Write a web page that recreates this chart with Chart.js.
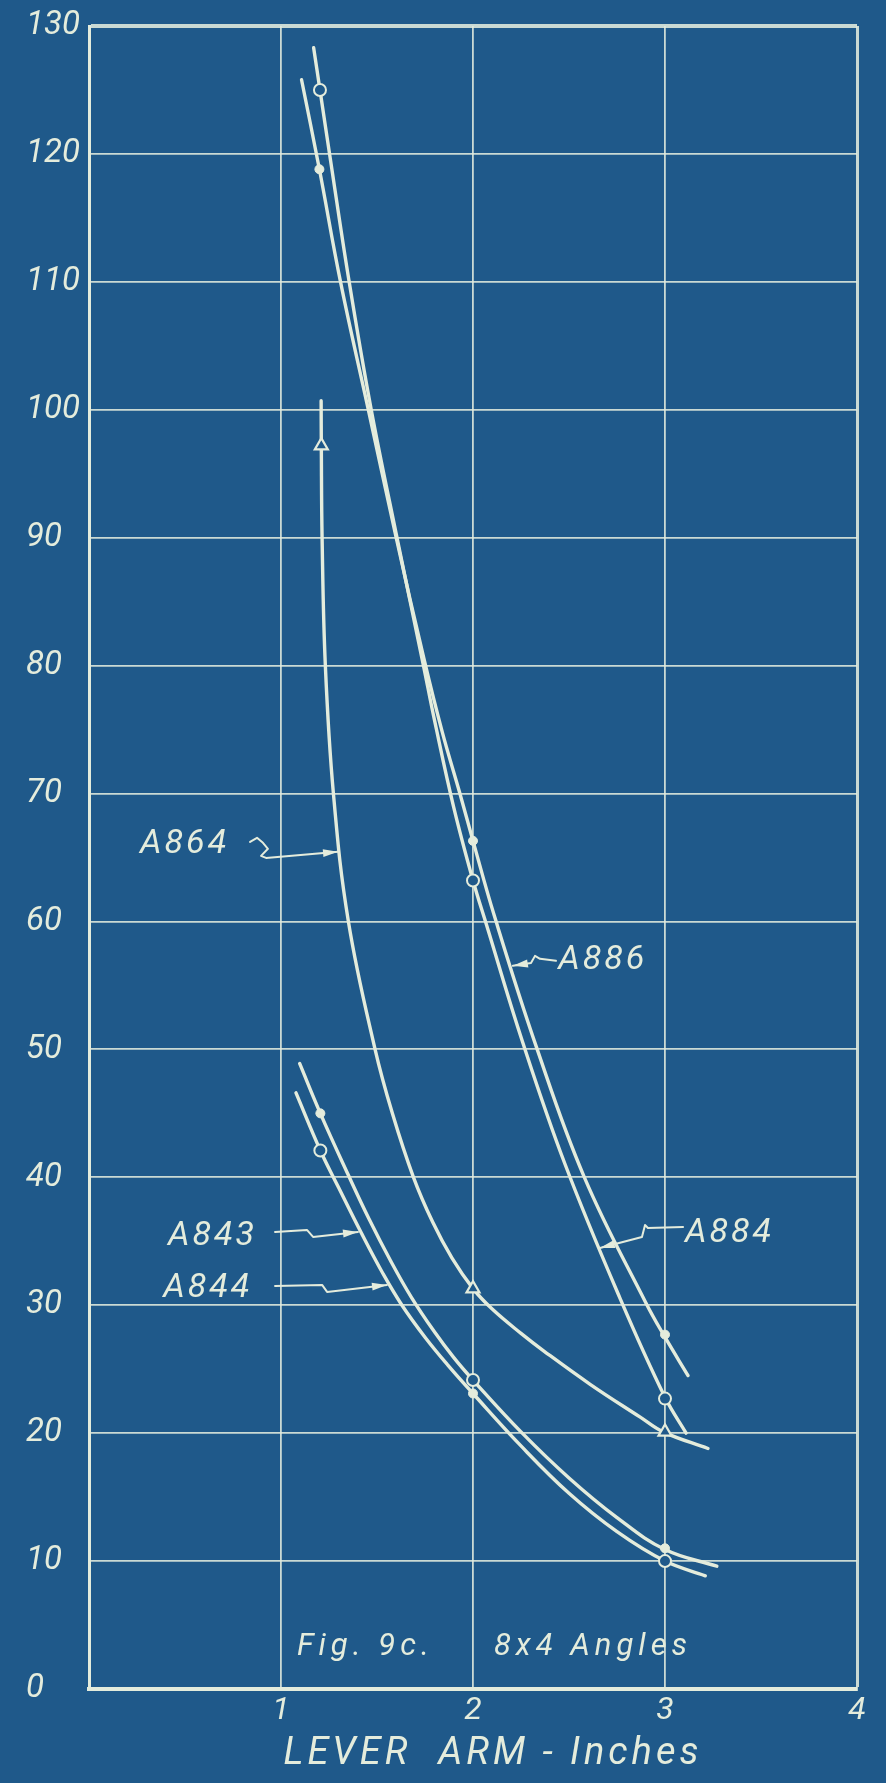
<!DOCTYPE html>
<html>
<head>
<meta charset="utf-8">
<title>Fig. 9c. 8x4 Angles</title>
<script src="https://cdn.jsdelivr.net/npm/chart.js@4.4.1/dist/chart.umd.min.js"></script>
<style>
  html, body { margin: 0; padding: 0; background: #1f598a; }
  canvas { display: block; }
</style>
</head>
<body>
<canvas id="fig" width="886" height="1783"></canvas>
<script>
// Load vs. lever arm (inches) for the 8x4 angle specimens.
// Faired curves, traced as [leverArm, load] pairs.
const curveA884 = [[1.17,128.3],[1.203,125.0],[1.253,120],[1.355,110],[1.47,100],[1.60,90.3],[1.742,80],[1.80,75.7],[1.90,68.9],[2.0,63.2],[2.069,59.8],[2.26,50.5],[2.48,41.0],[2.767,30.5],[3.0,22.8],[3.11,20.0]];
const curveA886 = [[1.107,125.8],[1.20,118.8],[1.31,110],[1.455,100],[1.60,90],[1.745,80.5],[1.84,74.8],[1.93,70.1],[2.0,66.3],[2.11,60.5],[2.33,50.2],[2.58,40],[2.90,30.2],[3.0,27.5],[3.12,24.5]];
const curveA864 = [[1.209,100.7],[1.21,97.2],[1.214,90],[1.231,80],[1.273,70],[1.351,60],[1.49,50],[1.58,45],[1.69,40],[1.79,36.5],[1.89,33.7],[2.0,31.3],[2.1,29.7],[2.25,27.8],[2.371,26.4],[2.612,23.8],[2.871,21.25],[2.99,20.1],[3.224,18.8]];
const curveA843 = [[1.078,46.6],[1.205,42.1],[1.30,39.2],[1.42,35.6],[1.53,32.5],[1.63,30.0],[1.75,27.5],[1.87,25.3],[2.0,23.1],[2.25,19.0],[2.5,15.3],[2.75,12.3],[3.0,10.0],[3.21,8.85]];
const curveA844 = [[1.097,48.9],[1.205,45.0],[1.35,40.2],[1.46,36.7],[1.57,33.5],[1.68,30.6],[1.80,27.9],[1.90,25.9],[2.0,24.15],[2.25,20.1],[2.5,16.5],[2.75,13.4],[3.0,10.9],[3.27,9.6]];

// Test readings at 1.2, 2 and 3 inch lever arms.
const pointsA884 = [[1.203,125.0],[2.0,63.2],[3.0,22.7]];
const pointsA886 = [[1.20,118.8],[2.0,66.3],[3.0,27.7]];
const pointsA864 = [[1.21,97.2],[2.0,31.3],[3.0,20.1]];
const pointsA843 = [[1.205,42.1],[2.0,24.15],[3.0,10.0]];
const pointsA844 = [[1.205,45.0],[2.0,23.1],[3.0,11.0]];

// Axis ticks
const xTickValues = [0, 1, 2, 3, 4];
const xTickLabels = ['', '1', '2', '3', '4'];
const yTickValues = [0, 10, 20, 30, 40, 50, 60, 70, 80, 90, 100, 110, 120, 130];
const yTickLabels = ['0', '10', '20', '30', '40', '50', '60', '70', '80', '90', '100', '110', '120', '130'];

// Curve names and where their hand-lettered tags sit (data units, text baseline)
const tagNames = ['A864', 'A886', 'A884', 'A843', 'A844'];
const tagAnchors = {
  A864: [0.266, 65.34],
  A886: [2.444, 56.25],
  A884: [3.104, 34.98],
  A843: [0.411, 34.71],
  A844: [0.387, 30.67]
};
// Leader lines from each tag to its curve, ending in an arrowhead
const tagLeaders = {
  A864: [[0.839,66.22],[0.875,66.54],[0.906,66.15],[0.932,65.68],[0.896,65.13],[0.922,64.97],[1.297,65.44]],
  A886: [[2.432,56.92],[2.349,57.08],[2.323,57.31],[2.302,56.76],[2.208,56.53]],
  A884: [[3.094,36.12],[2.911,36.04],[2.896,36.27],[2.880,35.34],[2.661,34.48]],
  A843: [[0.969,35.73],[1.135,35.89],[1.167,35.34],[1.401,35.73]],
  A844: [[0.969,31.51],[1.214,31.59],[1.240,31.04],[1.552,31.59]]
};
const captionParts = ['Fig. 9c.', '8x4 Angles'];
const captionAnchors = [[1.083, 2.66], [2.109, 2.66]];

const INK = '#e4ecdc';
const GRID = 'rgba(226,236,222,0.88)';
const PAPER = '#1f598a';
const FONT = 'Roboto, "Open Sans", "DejaVu Sans", sans-serif';

const toXY = arr => arr.map(([x, y]) => ({ x, y }));

function curveSet(label, arr) {
  return {
    label, data: toXY(arr), showLine: true, tension: 0.4,
    borderColor: INK, borderWidth: 3.4, borderCapStyle: 'round', borderJoinStyle: 'round',
    pointRadius: 0, pointHoverRadius: 0, order: 2
  };
}
function markSet(label, arr, style) {
  const base = { label, data: toXY(arr), showLine: false, order: 0, pointHoverRadius: 0 };
  if (style === 'ring') return Object.assign(base, { pointStyle: 'circle', pointRadius: 6, pointBorderWidth: 2, pointBorderColor: INK, pointBackgroundColor: PAPER });
  if (style === 'dot') return Object.assign(base, { pointStyle: 'circle', pointRadius: 4.5, pointBorderWidth: 1, pointBorderColor: INK, pointBackgroundColor: INK });
  return Object.assign(base, { pointStyle: 'triangle', pointRadius: 7.5, pointBorderWidth: 2.2, pointBorderColor: INK, pointBackgroundColor: PAPER });
}

// Title lettering gets wide tracking; everything drawn with the datasets does not.
const trackingPlugin = {
  id: 'tracking',
  beforeDraw(chart) { chart.ctx.letterSpacing = '4px'; },
  beforeDatasetsDraw(chart) { chart.ctx.letterSpacing = '0px'; }
};

// Hand-lettered curve tags, leader arrows and the figure caption
const lettering = {
  id: 'lettering',
  afterDraw(chart) {
    const { ctx, scales: { x: xs, y: ys } } = chart;
    const P = ([x, y]) => [xs.getPixelForValue(x), ys.getPixelForValue(y)];
    ctx.save();
    ctx.fillStyle = INK;
    ctx.strokeStyle = INK;
    ctx.textAlign = 'left';
    ctx.textBaseline = 'alphabetic';

    ctx.font = 'italic 400 34px ' + FONT;
    ctx.letterSpacing = '3px';
    tagNames.forEach(name => {
      const [tx, ty] = P(tagAnchors[name]);
      ctx.fillText(name, tx, ty);
    });

    ctx.letterSpacing = '0px';
    ctx.lineWidth = 2;
    ctx.lineJoin = 'round';
    ctx.lineCap = 'round';
    tagNames.forEach(name => {
      const pts = tagLeaders[name].map(P);
      ctx.beginPath();
      pts.forEach(([px, py], i) => i ? ctx.lineTo(px, py) : ctx.moveTo(px, py));
      ctx.stroke();
      const [ax, ay] = pts[pts.length - 1];
      const [bx, by] = pts[pts.length - 2];
      const ang = Math.atan2(ay - by, ax - bx);
      const len = 15, half = 4;
      ctx.beginPath();
      ctx.moveTo(ax, ay);
      ctx.lineTo(ax - len * Math.cos(ang) + half * Math.sin(ang), ay - len * Math.sin(ang) - half * Math.cos(ang));
      ctx.lineTo(ax - len * Math.cos(ang) - half * Math.sin(ang), ay - len * Math.sin(ang) + half * Math.cos(ang));
      ctx.closePath();
      ctx.fill();
    });

    ctx.font = 'italic 400 31px ' + FONT;
    ctx.letterSpacing = '5px';
    captionParts.forEach((t, i) => {
      const [cx, cy] = P(captionAnchors[i]);
      ctx.fillText(t, cx, cy);
    });
    ctx.restore();
  }
};

new Chart(document.getElementById('fig').getContext('2d'), {
  type: 'scatter',
  data: {
    datasets: [
      markSet('A884 readings', pointsA884, 'ring'),
      markSet('A886 readings', pointsA886, 'dot'),
      markSet('A864 readings', pointsA864, 'triangle'),
      markSet('A843 readings', pointsA843, 'ring'),
      markSet('A844 readings', pointsA844, 'dot'),
      curveSet('A884', curveA884),
      curveSet('A886', curveA886),
      curveSet('A864', curveA864),
      curveSet('A843', curveA843),
      curveSet('A844', curveA844)
    ]
  },
  options: {
    responsive: false,
    animation: false,
    devicePixelRatio: 1,
    layout: { padding: { left: 26, right: 29, top: 26, bottom: 0 }, autoPadding: false },
    plugins: { legend: { display: false }, tooltip: { enabled: false } },
    events: [],
    scales: {
      x: {
        type: 'linear', position: 'bottom', min: 0, max: 4,
        afterBuildTicks: s => { s.ticks = xTickValues.map(v => ({ value: v })); },
        afterFit: s => { s.height = 94; },
        ticks: {
          color: INK, padding: 3, maxRotation: 0, autoSkip: false, z: 1,
          font: { family: FONT, size: 32, style: 'italic', weight: '400' },
          callback: (v) => xTickLabels[xTickValues.indexOf(v)]
        },
        grid: {
          color: GRID, drawTicks: false,
          lineWidth: c => (c.tick && c.tick.value === 4 ? 3 : 1.8)
        },
        border: { display: true, color: INK, width: 4 },
        title: {
          display: true, text: '   LEVER  ARM - Inches', color: INK,
          font: { family: FONT, size: 38, style: 'italic', weight: '400' },
          padding: { top: 0, bottom: 6 }
        }
      },
      y: {
        type: 'linear', position: 'left', min: 0, max: 130,
        afterBuildTicks: s => { s.ticks = yTickValues.map(v => ({ value: v })); },
        afterFit: s => { s.width = 63; },
        ticks: {
          color: INK, padding: 0, crossAlign: 'far', autoSkip: false, z: 1,
          font: { family: FONT, size: 33, style: 'italic', weight: '400' },
          callback: (v) => yTickLabels[yTickValues.indexOf(v)]
        },
        grid: {
          color: GRID, drawTicks: false,
          lineWidth: c => (c.tick && c.tick.value === 130 ? 4 : 1.8)
        },
        border: { display: true, color: INK, width: 3 }
      }
    }
  },
  plugins: [trackingPlugin, lettering]
});
</script>
</body>
</html>
